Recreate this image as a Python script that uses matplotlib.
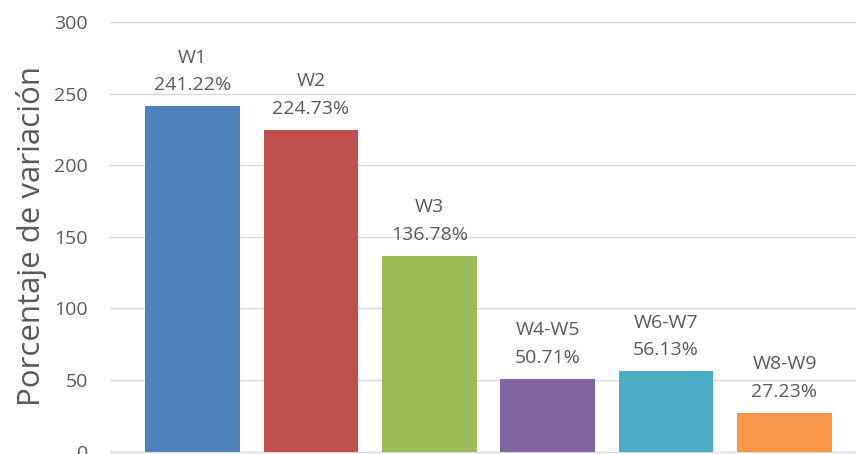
import matplotlib
matplotlib.use("Agg")
import matplotlib.pyplot as plt

categories = ["W1", "W2", "W3", "W4-W5", "W6-W7", "W8-W9"]
values = [241.22, 224.73, 136.78, 50.71, 56.13, 27.23]
colors = ["#4F81BD", "#C0504D", "#9BBB59", "#8064A2", "#4BACC6", "#F79646"]
yticks = [0, 50, 100, 150, 200, 250, 300]

plt.rcParams['font.family'] = ['Open Sans', 'DejaVu Sans']

W, H = 856, 454
fig = plt.figure(figsize=(W / 100, H / 100), dpi=100)
left, right = 110 / W, 856 / W
bottom, top = (H - 451.7) / H, (H - 22) / H
ax = fig.add_axes([left, bottom, right - left, top - bottom])

x = list(range(len(categories)))
ax.bar(x, values, width=0.80, color=colors, zorder=3)

for xi, cat, v in zip(x, categories, values):
    ax.annotate(f"{cat}\n{v:.2f}%", xy=(xi, v), xytext=(0, 8.5),
                textcoords="offset points", ha="center", va="bottom",
                fontsize=14, color="#595959", linespacing=1.7, zorder=4)

ax.set_ylim(0, 300)
ax.set_xlim(-0.697, 5.604)
ax.set_yticks(yticks)
ax.set_xticks([])
ax.yaxis.grid(True, color="#D9D9D9", linewidth=1.0, zorder=0)
for s in ["top", "right", "left"]:
    ax.spines[s].set_visible(False)
ax.spines["bottom"].set_color("#D9D9D9")
ax.tick_params(axis="y", length=0, labelsize=14, labelcolor="#595959", pad=16)
ax.set_ylabel("Porcentaje de variación", fontsize=22.5, color="#595959")
ax.yaxis.set_label_coords((47 - 110) / (856 - 110), 1 - (236 - 22) / (451.7 - 22))

fig.savefig("out.png", dpi=100)
